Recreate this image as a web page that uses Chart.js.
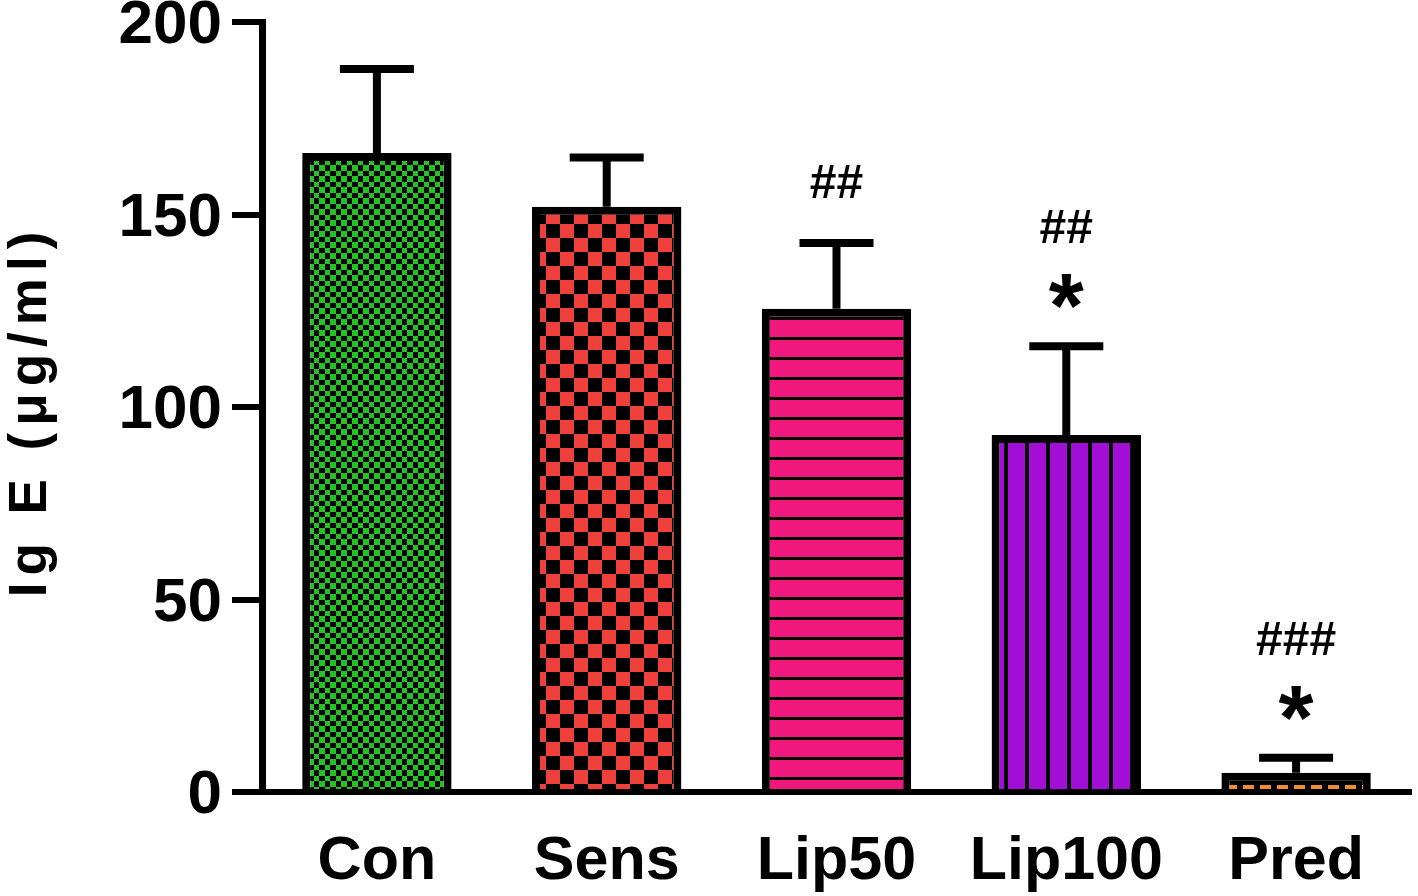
<!DOCTYPE html>
<html>
<head>
<meta charset="utf-8">
<script src="https://cdn.jsdelivr.net/npm/chart.js@4.4.0/dist/chart.umd.min.js"></script>
<style>
  html, body { margin: 0; padding: 0; background: #fff; }
  #wrap { width: 1418px; height: 896px; }
</style>
</head>
<body>
<div id="wrap"><canvas id="bar_chart" width="1418" height="896"></canvas></div>
<script>
// groups and values
var groups = ['Con', 'Sens', 'Lip50', 'Lip100', 'Pred'];
var means = [166, 152, 125.5, 92.7, 5];
var errors = [21.8, 12.8, 17.1, 23.1, 3.9];
var hashMarks = ['', '', '##', '##', '###'];
var starMarks = ['', '', '', '*', '*'];
var yTicks = [0, 50, 100, 150, 200];
var yTitle = 'Ig E (\u03bcg/ml)';

var FONT = '"Liberation Sans", Arial, sans-serif';

function makePattern(kind) {
  var c = document.createElement('canvas');
  var ctx = c.getContext('2d');
  if (kind == 'smallcheck') {
    c.width = 11; c.height = 11;
    ctx.fillStyle = '#000'; ctx.fillRect(0, 0, 11, 11);
    ctx.fillStyle = '#22c322';
    ctx.fillRect(0, 0, 6, 6); ctx.fillRect(6, 6, 5, 5);
  } else if (kind == 'bigcheck') {
    c.width = 28; c.height = 28;
    ctx.fillStyle = '#000'; ctx.fillRect(0, 0, 28, 28);
    ctx.fillStyle = '#f0403c';
    ctx.fillRect(0, 0, 14, 14); ctx.fillRect(14, 14, 14, 14);
  } else if (kind == 'hlines') {
    c.width = 20; c.height = 20;
    ctx.fillStyle = '#f0187c'; ctx.fillRect(0, 0, 20, 20);
    ctx.fillStyle = '#000'; ctx.fillRect(0, 17, 20, 3);
  } else if (kind == 'vlines') {
    c.width = 21; c.height = 21;
    ctx.fillStyle = '#a20ed6'; ctx.fillRect(0, 0, 21, 21);
    ctx.fillStyle = '#000'; ctx.fillRect(17, 0, 4, 21);
  } else {
    c.width = 17; c.height = 12;
    ctx.fillStyle = '#000'; ctx.fillRect(0, 0, 17, 12);
    ctx.fillStyle = '#ee9030'; ctx.fillRect(2, 5, 11, 4);
  }
  return ctx.createPattern(c, 'repeat');
}

var fills = ['smallcheck', 'bigcheck', 'hlines', 'vlines', 'dash'].map(makePattern);

// error bars, significance marks and the spaced-out y title
var extrasPlugin = {
  id: 'extras',
  afterDatasetsDraw: function(chart) {
    var ctx = chart.ctx;
    var meta = chart.getDatasetMeta(0);
    var y = chart.scales.y;
    ctx.save();
    ctx.strokeStyle = '#000';
    ctx.fillStyle = '#000';
    ctx.lineWidth = 8;
    ctx.lineCap = 'butt';
    for (var i = 0; i < means.length; i++) {
      var bar = meta.data[i];
      var x = bar.x;
      var top = y.getPixelForValue(means[i]);
      var et = y.getPixelForValue(means[i] + errors[i]);
      ctx.beginPath();
      ctx.moveTo(x, top);
      ctx.lineTo(x, et);
      ctx.moveTo(x - 37, et);
      ctx.lineTo(x + 37, et);
      ctx.stroke();

      ctx.textAlign = 'center';
      ctx.textBaseline = 'middle';
      if (starMarks[i]) {
        ctx.font = 'bold 90px ' + FONT;
        ctx.fillText(starMarks[i], x, et - 50 + 16);
      }
      if (hashMarks[i]) {
        ctx.font = 'bold 48px ' + FONT;
        ctx.fillText(hashMarks[i], x, et - (starMarks[i] ? 116 : 58));
      }
    }

    ctx.translate(31, (chart.chartArea.top + chart.chartArea.bottom) / 2 + 4);
    ctx.rotate(-Math.PI / 2);
    ctx.font = 'bold 53px ' + FONT;
    ctx.letterSpacing = '7px';
    ctx.textAlign = 'center';
    ctx.textBaseline = 'middle';
    ctx.fillText(yTitle, 0, 0);
    ctx.restore();
  }
};

var chart = new Chart(document.getElementById('bar_chart').getContext('2d'), {
  type: 'bar',
  data: {
    labels: groups,
    datasets: [{
      label: 'Ig E',
      data: means,
      backgroundColor: fills,
      borderColor: '#000',
      borderWidth: 8,
      borderSkipped: 'bottom',
      barPercentage: 0.65,
      categoryPercentage: 1.0
    }]
  },
  options: {
    responsive: false,
    animation: false,
    devicePixelRatio: 1,
    layout: { padding: { top: 22, right: 7, left: 0, bottom: 0 } },
    plugins: {
      legend: { display: false },
      tooltip: { enabled: false }
    },
    scales: {
      x: {
        grid: { display: false },
        border: { display: true, color: '#000', width: 6 },
        ticks: {
          color: '#000',
          padding: 26,
          font: { family: FONT, size: 61, weight: 'bold' }
        },
        afterFit: function(scale) { scale.height = 104; }
      },
      y: {
        min: 0,
        max: 200,
        afterBuildTicks: function(scale) {
          scale.ticks = yTicks.map(function(v) { return { value: v }; });
        },
        grid: { drawOnChartArea: false, color: '#000', lineWidth: 6, tickLength: 30, tickWidth: 6 },
        border: { display: true, color: '#000', width: 7 },
        ticks: {
          color: '#000',
          padding: 10,
          labelOffset: 4,
          font: { family: FONT, size: 62, weight: 'bold' }
        },
        title: { display: false, text: yTitle },
        afterFit: function(scale) {
          scale.width = 262;
          scale.paddingTop = 0;
          scale.paddingBottom = 0;
        }
      }
    }
  },
  plugins: [extrasPlugin]
});
</script>
</body>
</html>
